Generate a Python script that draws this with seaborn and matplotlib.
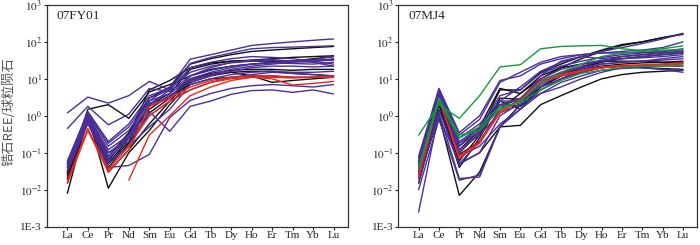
import matplotlib
matplotlib.use("Agg")
import matplotlib.pyplot as plt
import numpy as np
import pandas as pd
import seaborn as sns

elements = ["La", "Ce", "Pr", "Nd", "Sm", "Eu", "Gd", "Tb", "Dy", "Ho", "Er", "Tm", "Yb", "Lu"]
ytick_vals = [1e-3, 1e-2, 1e-1, 1e0, 1e1, 1e2, 1e3]
ytick_labels = ["1E-3", "$10^{-2}$", "$10^{-1}$", "$10^{0}$", "$10^{1}$", "$10^{2}$", "$10^{3}$"]

# 07FY01 zircon, chondrite normalised
fy_black = [
    [0.008, 1.0, 0.011, 0.1, 0.4, 2.0, 8, 12, 15, 16, 16, 14, 13, 12],
    [0.03, 1.5, 2.0, 0.85, 4.4, 7, 12, 18, 22, 25, 28, 30, 35, 40],
    [0.02, 0.9, 0.05, 0.2, 2.0, 4, 18, 25, 30, 32, 35, 38, 40, 42],
    [0.025, 1.0, 0.06, 0.3, 5, 9, 20, 27, 30, 30, 30, 30, 32, 33],
    [0.015, 0.7, 0.03, 0.12, 0.6, 2.5, 9, 13, 15, 12, 8, 9, 10, 11],
    [0.02, 0.8, 0.04, 0.18, 1.2, 3, 10, 14, 17, 18, 18, 17, 18, 18],
    [0.03, 1.1, 0.08, 0.35, 3, 6, 25, 35, 45, 55, 60, 65, 70, 75],
    [0.025, 1.0, 0.05, 0.25, 1.5, 3.5, 7, 10, 11, 12, 12, 11, 11, 12],
]
fy_purple = [
    [1.2, 3.2, 2.2, 3.5, 8.5, 5.0, 20, 28, 35, 40, 38, 35, 30, 25],
    [0.45, 1.8, 0.57, 1.1, 5.5, 4.5, 12, 20, 28, 32, 33, 30, 28, 22],
    [0.05, 1.0, 0.12, 0.3, 2.5, 6, 34, 45, 60, 80, 90, 100, 110, 120],
    [0.04, 0.8, 0.1, 0.25, 2.0, 5, 26, 38, 50, 65, 70, 72, 75, 78],
    [0.03, 0.6, 0.05, 0.15, 1.3, 0.38, 1.8, 2.5, 3.8, 4.8, 5.0, 4.3, 5.0, 3.9],
    [0.035, 0.7, 0.04, 0.045, 0.09, 0.9, 2.6, 4, 5.5, 6.5, 7, 6.5, 6, 7],
    [0.06, 1.2, 0.18, 0.5, 3, 5, 9, 13, 18, 22, 25, 28, 30, 35],
    [0.05, 1.1, 0.15, 0.4, 2.5, 4, 10, 15, 20, 25, 27, 30, 33, 40],
    [0.04, 0.9, 0.08, 0.3, 1.8, 3.5, 8, 12, 16, 20, 22, 22, 21, 22],
    [0.045, 1.0, 0.1, 0.2, 2.2, 3, 12, 17, 22, 25, 27, 26, 25, 28],
    [0.05, 0.9, 0.07, 0.25, 1.0, 2.5, 5, 8, 11, 13, 15, 14, 13, 12],
    [0.04, 0.8, 0.06, 0.15, 0.5, 1.5, 7, 10, 13, 15, 16, 15, 15, 16],
    [0.055, 1.3, 0.2, 0.6, 3.5, 5.5, 15, 22, 27, 30, 31, 30, 30, 32],
]
fy_red = [
    [0.015, 0.4, 0.03, 0.12, 1.8, 3, 6, 9, 11, 12, 12, 11, 11, 12],
    [np.nan, np.nan, np.nan, 0.018, 0.3, 1.0, 3.5, 6, 9, 11, 10, 6.8, 7.5, 8.5],
    [0.018, 0.45, 0.035, 0.15, 1.0, 2.5, 5, 8, 10, 11, 11, 10.5, 11, 11],
]

# 07MJ4
mj_black = [
    [0.02, 1.0, 0.007, 0.03, 0.5, 2, 6, 12, 20, 30, 40, 45, 50, 55],
    [0.03, 2.5, 0.05, 0.1, 0.5, 0.55, 2.0, 3.5, 6, 10, 13, 15, 16, 17],
    [0.04, 3.5, 0.1, 0.35, 5, 5, 15, 25, 40, 60, 85, 100, 130, 165],
    [0.05, 4, 0.15, 0.5, 5.5, 4, 10, 20, 35, 55, 80, 100, 130, 160],
    [0.02, 2.0, 0.04, 0.25, 2.5, 1.5, 6, 12, 18, 22, 25, 27, 28, 30],
    [0.015, 1.5, 0.06, 0.3, 3, 2.8, 8, 14, 20, 28, 35, 40, 45, 50],
    [0.025, 2.8, 0.09, 0.2, 1.5, 4, 12, 20, 25, 30, 30, 30, 28, 27],
    [0.03, 2.2, 0.12, 0.4, 2, 1.8, 5, 10, 15, 20, 22, 20, 19, 18],
]
mj_purple = [
    [0.0025, 1.2, 0.02, 0.022, 0.5, 1.5, 5, 10, 18, 25, 28, 30, 35, 40],
    [0.08, 5.5, 0.35, 1.0, 9, 12, 25, 35, 45, 50, 55, 60, 70, 100],
    [0.07, 5.0, 0.3, 0.8, 8, 15, 28, 40, 45, 50, 50, 52, 55, 60],
    [0.05, 4.5, 0.2, 0.5, 2.5, 6, 16, 28, 40, 55, 70, 90, 120, 170],
    [0.04, 3.5, 0.15, 0.4, 2.0, 3, 10, 18, 25, 32, 35, 37, 40, 45],
    [0.03, 1.0, 0.05, 0.2, 1.5, 2.5, 6, 10, 15, 20, 22, 20, 18, 15],
    [0.01, 0.8, 0.018, 0.025, 0.5, 2.0, 4, 8, 12, 17, 19, 20, 18, 17],
    [0.06, 5.0, 0.25, 0.6, 2.5, 2.5, 12, 30, 40, 35, 40, 45, 50, 55],
    [0.045, 4.0, 0.12, 0.3, 1.2, 2.0, 8, 14, 20, 25, 28, 30, 32, 35],
    [0.02, 2.5, 0.08, 0.15, 0.6, 1.5, 4, 6, 10, 15, 20, 22, 25, 28],
    [0.035, 3, 0.1, 0.35, 1.8, 2.8, 9, 15, 22, 30, 35, 40, 45, 50],
    [0.015, 1.5, 0.05, 0.1, 1.0, 2.2, 7, 12, 16, 20, 22, 22, 22, 22],
    [0.05, 5.2, 0.18, 0.45, 3.5, 5, 14, 22, 30, 38, 45, 50, 55, 65],
]
mj_red = [
    [0.02, 3, 0.07, 0.18, 1.2, 2.5, 8, 12, 16, 20, 22, 23, 24, 25],
    [0.025, 2.8, 0.08, 0.2, 1.3, 2.8, 9, 13, 17, 21, 23, 24, 25, 27],
]
mj_green = [
    [0.3, 2.0, 0.85, 3.5, 21, 24, 65, 75, 78, 80, 65, 58, 65, 78],
    [0.04, 3, 0.3, 0.4, 1.5, 2.5, 8, 15, 25, 40, 50, 55, 60, 60],
    [0.035, 2.5, 0.25, 0.5, 1.8, 2.2, 5, 9, 14, 17, 20, 22, 22, 23],
]

colors = {"black": "#111111", "purple": "#4a2f99", "red": "#e8281e", "green": "#149a3c"}


def to_long(groups):
    rows = []
    pal = {}
    for cname, lines in groups:
        for i, vals in enumerate(lines):
            sid = f"{cname}{i}"
            pal[sid] = colors[cname]
            for el, v in zip(elements, vals):
                if not np.isnan(v):
                    rows.append({"sample": sid, "element": el, "value": v})
    return pd.DataFrame(rows), pal


sns.set_style("ticks")
plt.rcParams["font.family"] = ["Liberation Serif", "Noto Sans CJK SC"]
plt.rcParams["mathtext.fontset"] = "stix"

fig = plt.figure(figsize=(7, 2.45), dpi=100)
ax1 = fig.add_axes([0.067, 0.075, 0.43, 0.905])
ax2 = fig.add_axes([0.569, 0.075, 0.427, 0.905])

panels = [
    (ax1, [("black", fy_black), ("purple", fy_purple), ("red", fy_red)], "07FY01"),
    (ax2, [("black", mj_black), ("purple", mj_purple), ("red", mj_red), ("green", mj_green)], "07MJ4"),
]

for ax, groups, name in panels:
    df, pal = to_long(groups)
    sns.lineplot(data=df, x="element", y="value", hue="sample", palette=pal,
                 estimator=None, sort=False, legend=False, lw=1.0, ax=ax)
    ax.set_yscale("log")
    ax.set_ylim(1e-3, 1e3)
    ax.set_xlim(-1, 13.7)
    ax.set_yticks(ytick_vals)
    ax.set_yticklabels(ytick_labels)
    ax.minorticks_off()
    ax.set_xticks(range(len(elements)))
    ax.set_xticklabels(elements)
    ax.tick_params(labelsize=8, length=2.5, width=0.8, colors="#222222", pad=1)
    for sp in ax.spines.values():
        sp.set_linewidth(0.9)
        sp.set_color("#333333")
    ax.set_xlabel("")
    ax.set_ylabel("")
    ax.text(0.033, 0.95, name, transform=ax.transAxes, va="center", ha="left", fontsize=9.5)

ax1.set_ylabel("锆石REE/球粒陨石", fontsize=9.5, color="#555555",
               family=["Noto Sans CJK SC", "Liberation Serif"])
ax1.yaxis.set_label_coords(-0.105, 0.52)

fig.savefig("out.png", dpi=100)
